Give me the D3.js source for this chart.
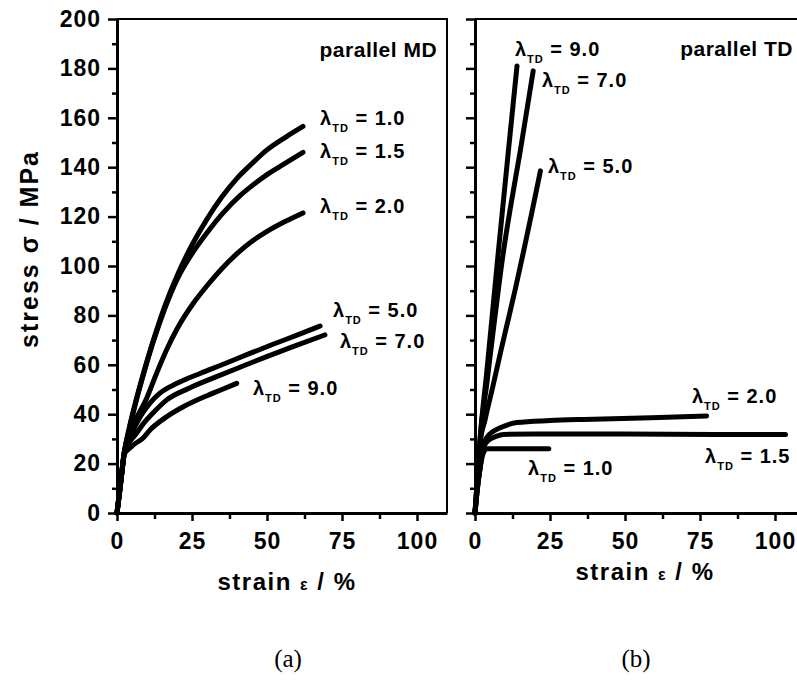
<!DOCTYPE html>
<html>
<head>
<meta charset="utf-8">
<script src="https://cdn.jsdelivr.net/npm/d3@7"></script>
<style>
  body { margin: 0; background: #fff; }
  text { font-family: "Liberation Sans", Arial, sans-serif; font-weight: bold; fill: #000; }
</style>
</head>
<body>
<svg id="chart" width="797" height="684"></svg>
<script>
// tick values
var strainTicks = [0, 25, 50, 75, 100];
var strainMinor = [12.5, 37.5, 62.5, 87.5];
var stressTicks = [0, 20, 40, 60, 80, 100, 120, 140, 160, 180, 200];
var stressMinor = [10, 30, 50, 70, 90, 110, 130, 150, 170, 190];

// (a) parallel MD, [strain %, stress MPa]
var mdLambda = ["1.0", "1.5", "2.0", "5.0", "7.0", "9.0"];
var md10 = [[0,0],[1.2,12],[2.5,25],[4,34],[6,44],[8.8,56.5],[12,69.5],[16,84],[20,96],[25,108.5],[30,119],[35,128],[40,135.5],[45,141.5],[50,147],[56,152],[62,156.5]];
var md15 = [[0,0],[1.2,12],[2.5,25],[4,33.5],[6,43.5],[8.8,56],[12,69],[16,83],[20,94.5],[25,105],[30,113.5],[35,121],[41,128.5],[45,132.5],[50,137],[56,141.5],[62,146]];
var md20 = [[0,0],[1.2,12],[2.5,25],[4,32],[6.5,38.5],[9.9,46.5],[13,56],[16.5,66],[20,74.5],[25.5,85],[30,92],[35,99],[40,105],[45,110],[50,114],[56,118],[62,121.5]];
var md50 = [[0,0],[1.2,12],[2.5,25],[4,30.5],[5.4,33.6],[8,39.5],[11,44.5],[14.3,48.5],[20,52.5],[27.7,56.5],[35,60],[44.3,64.6],[52,68.3],[60,72],[67.7,75.7]];
var md70 = [[0,0],[1.2,12],[2.5,25],[4,28.5],[6,31.5],[9,36.5],[12,40.5],[16.5,45.7],[24,50.5],[33.2,55.2],[42,59.5],[49.9,63.3],[60,68],[69.3,72.1]];
var md90 = [[0,0],[1.2,12],[2.5,24],[4,26],[5.4,27.5],[8.8,30.5],[11,33.6],[16,38.5],[22.1,43],[30,47.5],[35,50],[39.9,52.5]];
var mdLabelAt = [[67.7,157],[67.7,143.7],[67.7,121.5],[72,79.4],[74.3,66.8],[45.3,47.8]];

// (b) parallel TD
var tdLambda = ["1.0", "1.5", "2.0", "5.0", "7.0", "9.0"];
var td10 = [[0,0],[0.8,10],[1.7,18.3],[2.7,24],[3.9,26],[10,26],[18,26],[24.6,26]];
var td15 = [[0,0],[0.8,10],[1.7,18.3],[2.8,26.4],[4.5,29.5],[7,31],[9.5,31.8],[20,32],[50,32],[80,31.8],[103.5,31.8]];
var td20 = [[0,0],[0.8,10],[1.7,18.3],[2.7,27],[3.9,30.5],[6,33],[8.4,34.5],[14,36.6],[25,37.4],[36.3,37.9],[58.7,38.6],[77.2,39.3]];
var td50 = [[0,0],[0.8,14],[1.7,28],[3.4,38],[6.1,52],[8.5,65],[11.2,79],[13.5,91],[16.2,106],[19,122],[21.8,138.5]];
var td70 = [[0,0],[0.8,14],[1.7,30],[4,53],[6,73],[9.5,106],[12,125],[15.1,146.6],[19.4,179]];
var td90 = [[0,0],[0.8,14],[1.7,30],[4,58],[7.8,106],[11,145],[14,181]];
var tdLabelAt = [[17.7,15.4],[76.7,20.2],[72.3,44.5],[24.3,137.7],[22.3,172.5],[13.3,185]];

var svg = d3.select("#chart");
var plotTop = 19, plotBottom = 513;

function drawPanel(left, curves, lambdas, labelAt, note, withLabels) {
    var x = d3.scaleLinear().domain([0, 110]).range([left, left + 330]);
    var y = d3.scaleLinear().domain([0, 200]).range([plotBottom, plotTop]);
    var g = svg.append("g");

    // frame (top and right)
    g.append("path")
        .attr("d", "M" + x(0) + "," + y(200) + "H" + x(110) + "V" + y(0))
        .attr("fill", "none").attr("stroke", "#000").attr("stroke-width", 2);

    g.append("g").attr("transform", "translate(0," + plotBottom + ")")
        .call(d3.axisBottom(x).tickValues(strainTicks).tickSize(8).tickPadding(12).tickSizeOuter(0));
    g.append("g").attr("transform", "translate(0," + plotBottom + ")")
        .call(d3.axisBottom(x).tickValues(strainMinor).tickSize(6).tickFormat("").tickSizeOuter(0))
        .select(".domain").remove();

    g.append("g").attr("transform", "translate(" + x(0) + ",0)")
        .call(d3.axisLeft(y).tickValues(stressTicks).tickSize(9).tickPadding(7).tickSizeOuter(0)
            .tickFormat(withLabels ? d3.format("d") : ""));
    g.append("g").attr("transform", "translate(" + x(0) + ",0)")
        .call(d3.axisLeft(y).tickValues(stressMinor).tickSize(5).tickFormat("").tickSizeOuter(0))
        .select(".domain").remove();

    g.selectAll(".domain").attr("stroke", "#000").attr("stroke-width", 3);
    g.selectAll(".tick line").attr("stroke", "#000").attr("stroke-width", 2.5);
    g.selectAll(".tick text")
        .style("font-size", "23px")
        .style("letter-spacing", "1px")
        .style("font-family", "'Liberation Sans', Arial, sans-serif")
        .style("font-weight", "bold")
        .attr("fill", "#000");

    var line = d3.line()
        .x(function(d) { return x(d[0]); })
        .y(function(d) { return y(d[1]); })
        .curve(d3.curveMonotoneX);

    g.selectAll("path.curve")
        .data(curves)
        .enter()
        .append("path")
        .attr("class", "curve")
        .attr("d", line)
        .attr("fill", "none")
        .attr("stroke", "#000")
        .attr("stroke-width", 5)
        .attr("stroke-linecap", "round")
        .attr("stroke-linejoin", "round");

    // lambda labels
    var labels = g.selectAll("text.lam")
        .data(lambdas)
        .enter()
        .append("text")
        .attr("class", "lam")
        .attr("x", function(d, i) { return x(labelAt[i][0]); })
        .attr("y", function(d, i) { return y(labelAt[i][1]); })
        .style("font-size", "20px")
        .style("letter-spacing", "1px");
    labels.append("tspan").text("λ");
    labels.append("tspan").attr("dy", 7).style("font-size", "11px").text("TD");
    labels.append("tspan").attr("dy", -7).text(function(d) { return " = " + d; });

    g.append("text")
        .attr("x", x(note[1]))
        .attr("y", y(note[2]))
        .attr("text-anchor", "end")
        .style("font-size", "21px")
        .style("letter-spacing", "0.5px")
        .text(note[0]);

    return x;
}

drawPanel(117, [md10, md15, md20, md50, md70, md90], mdLambda, mdLabelAt, ["parallel MD", 106.7, 184.6], true);
drawPanel(475, [td10, td15, td20, td50, td70, td90], tdLambda, tdLabelAt, ["parallel TD", 106, 185], false);

// axis titles
function strainTitle(cx, by) {
    var t = svg.append("text")
        .attr("x", cx).attr("y", by)
        .attr("text-anchor", "middle")
        .style("font-size", "24px")
        .style("letter-spacing", "1.5px");
    t.append("tspan").text("strain ");
    t.append("tspan").style("font-size", "16px").text("ε");
    t.append("tspan").text(" / %");
}
strainTitle(287, 590);
strainTitle(645, 580);

svg.append("text")
    .attr("transform", "translate(38,249) rotate(-90)")
    .attr("text-anchor", "middle")
    .style("font-size", "25px")
    .style("letter-spacing", "2px")
    .text("stress σ / MPa");

// panel captions
svg.selectAll("text.cap")
    .data(["(a)", "(b)"])
    .enter()
    .append("text")
    .attr("class", "cap")
    .attr("x", function(d, i) { return i === 0 ? 288 : 636; })
    .attr("y", 667)
    .attr("text-anchor", "middle")
    .style("font-family", "'Liberation Serif', 'Times New Roman', serif")
    .style("font-weight", "normal")
    .style("font-size", "25px")
    .text(function(d) { return d; });
</script>
</body>
</html>
